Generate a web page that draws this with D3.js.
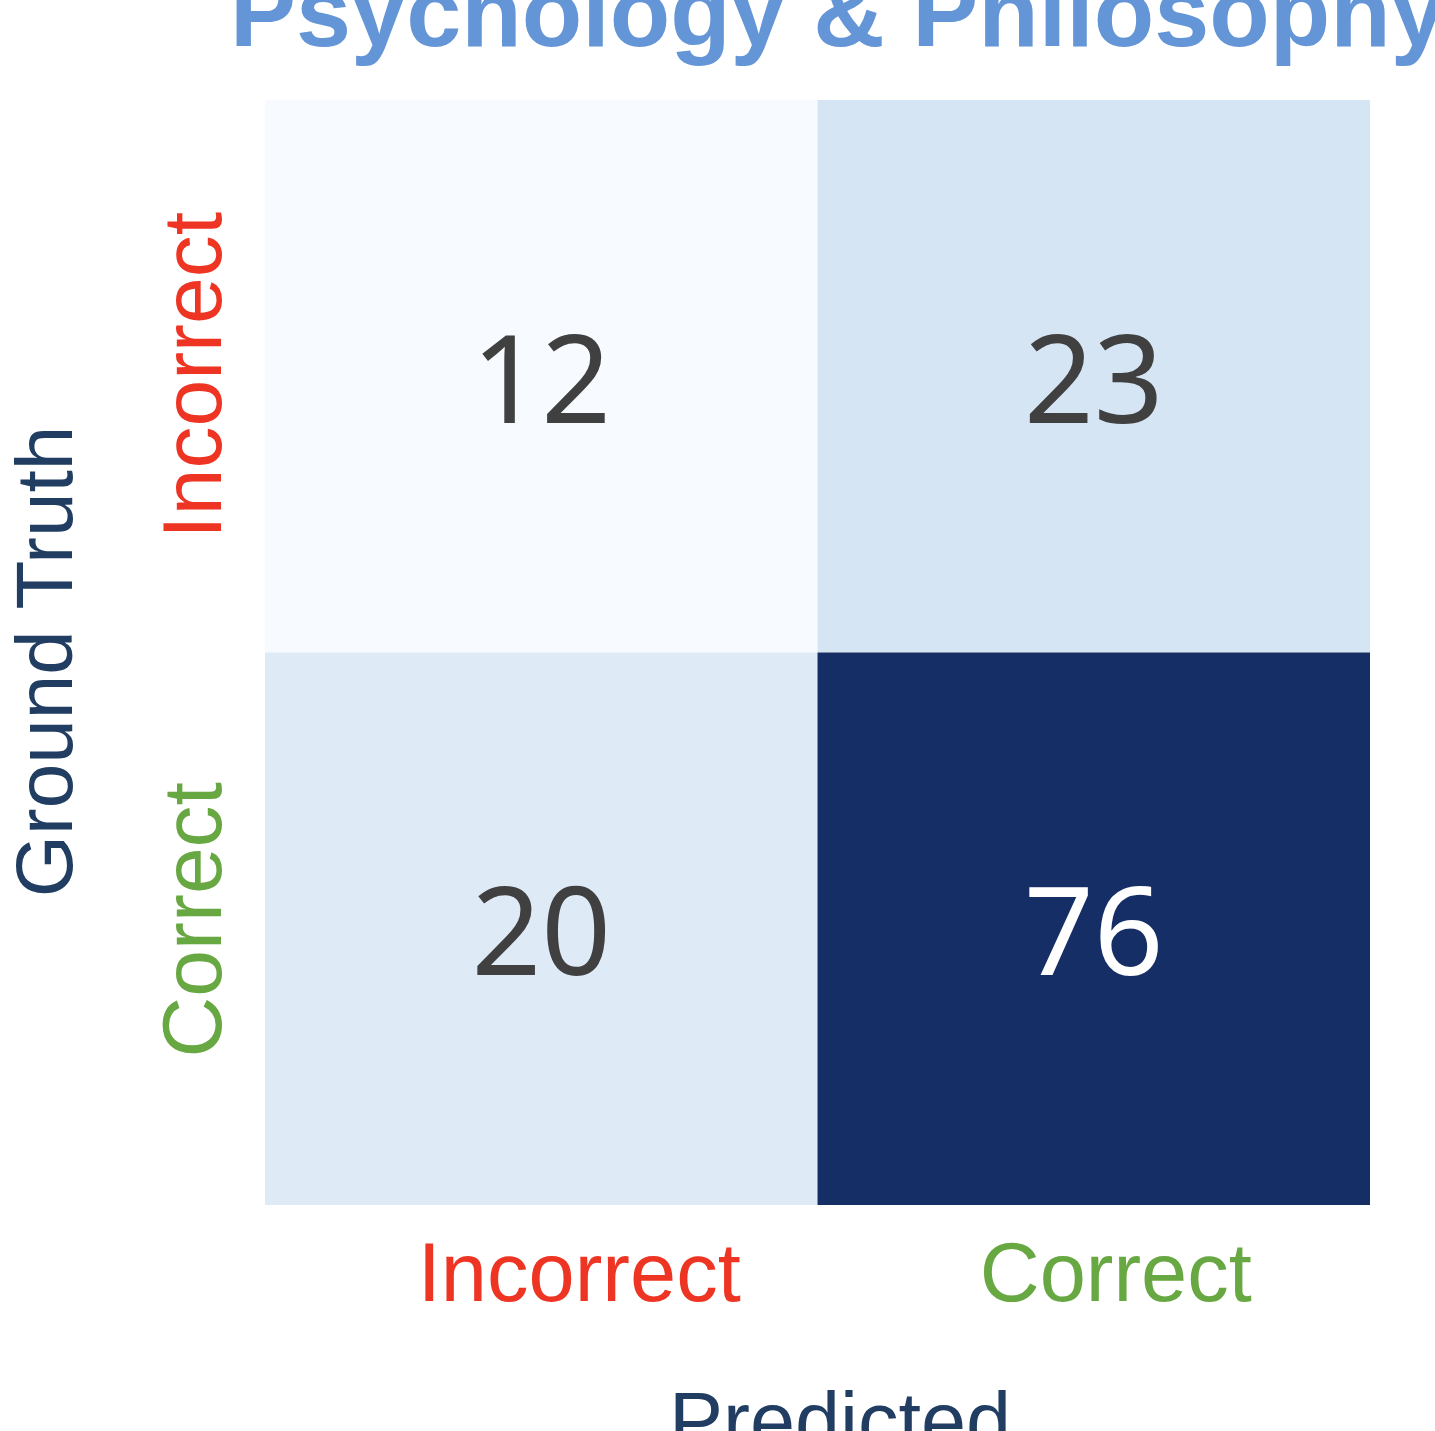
<!DOCTYPE html>
<html>
<head>
<meta charset="utf-8">
<script src="https://cdn.jsdelivr.net/npm/d3@7"></script>
<style>
  html, body { margin: 0; padding: 0; background: #ffffff; overflow: hidden; }
  svg { display: block; }
</style>
</head>
<body>
<svg id="chart"></svg>
<script>
// data
const predictedLabels = ["Incorrect", "Correct"];
const truthLabels = ["Incorrect", "Correct"];
const labelColors = ["#ee3524", "#67a842"];
const rowIncorrect = [12, 23];
const rowCorrect = [20, 76];
const title = "Psychology & Philosophy";

const width = 1435;
const height = 1431;
const gridLeft = 265;
const gridRight = 1370;
const gridTop = 100;
const gridBottom = 1205;

const svg = d3.select("#chart").attr("width", width).attr("height", height);

const cells = [];
[rowIncorrect, rowCorrect].forEach((row, i) => {
  row.forEach((v, j) => {
    cells.push({ truth: truthLabels[i], pred: predictedLabels[j], value: v });
  });
});

const xScale = d3.scaleBand().domain(predictedLabels).range([gridLeft, gridRight]).padding(0);
const yScale = d3.scaleBand().domain(truthLabels).range([gridTop, gridBottom]).padding(0);

const allValues = cells.map((d) => d.value);
const color = d3.scaleSequential(d3.interpolateBlues).domain([d3.min(allValues), d3.max(allValues)]);

// cells
svg
  .append("g")
  .selectAll("rect")
  .data(cells)
  .enter()
  .append("rect")
  .attr("x", (d) => xScale(d.pred))
  .attr("y", (d) => yScale(d.truth))
  .attr("width", xScale.bandwidth())
  .attr("height", yScale.bandwidth())
  .attr("fill", (d) => (d.value === d3.max(allValues) ? "#152e66" : color(d.value)));

// numbers in the cells
const numSize = 122;
svg
  .append("g")
  .selectAll("text")
  .data(cells)
  .enter()
  .append("text")
  .attr("x", (d) => xScale(d.pred) + xScale.bandwidth() / 2)
  .attr("y", (d) => yScale(d.truth) + yScale.bandwidth() / 2 + numSize * 0.38)
  .attr("text-anchor", "middle")
  .attr("font-family", "'Noto Sans', sans-serif")
  .attr("font-size", numSize)
  .attr("fill", (d) => (d.value > 50 ? "#ffffff" : "#404040"))
  .text((d) => d.value);

// x axis (predicted) - labels sit a bit right of the column centres
const xAxis = d3.axisBottom(xScale).tickSize(0).tickPadding(0);
const gx = svg.append("g").attr("transform", "translate(0," + gridBottom + ")").call(xAxis);
gx.select(".domain").remove();
gx.selectAll("text")
  .attr("y", 96)
  .attr("dy", 0)
  .attr("dx", (d, i) => (i === 0 ? 38 : 22))
  .attr("font-family", "'Liberation Sans', Arial, sans-serif")
  .attr("font-size", 83)
  .attr("fill", (d, i) => labelColors[i]);

// y axis (ground truth), rotated labels
const yAxis = d3.axisLeft(yScale).tickSize(0).tickPadding(0);
const gy = svg.append("g").attr("transform", "translate(" + gridLeft + ",0)").call(yAxis);
gy.select(".domain").remove();
gy.selectAll("text")
  .attr("x", 0)
  .attr("dy", 0)
  .attr("text-anchor", "middle")
  .attr("transform", (d, i) => "translate(-44," + (i === 0 ? -1 : -9) + ") rotate(-90)")
  .attr("font-family", "'Liberation Sans', Arial, sans-serif")
  .attr("font-size", 84)
  .attr("fill", (d, i) => labelColors[i]);

// axis titles
svg
  .append("text")
  .attr("transform", "translate(72," + ((gridTop + gridBottom) / 2 + 9) + ") rotate(-90)")
  .attr("text-anchor", "middle")
  .attr("font-family", "'Liberation Sans', Arial, sans-serif")
  .attr("font-size", 80)
  .attr("fill", "#213d62")
  .text("Ground Truth");

svg
  .append("text")
  .attr("x", 840)
  .attr("y", 1449)
  .attr("text-anchor", "middle")
  .attr("font-family", "'Liberation Sans', Arial, sans-serif")
  .attr("font-size", 81)
  .attr("fill", "#213d62")
  .text("Predicted");

// title
svg
  .append("text")
  .attr("x", 230)
  .attr("y", 46)
  .attr("font-family", "'Liberation Sans', Arial, sans-serif")
  .attr("font-weight", "bold")
  .attr("font-size", 99)
  .attr("fill", "#6495d6")
  .text(title);
</script>
</body>
</html>
